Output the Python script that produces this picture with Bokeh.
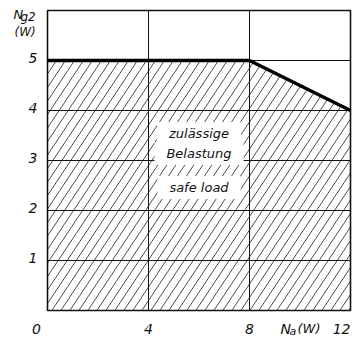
import numpy as np
from bokeh.plotting import figure
from bokeh.models import Label, Range1d
from bokeh.core.properties import value
from bokeh.embed import file_html
from bokeh.resources import INLINE

# ---- data ----
x_limit = [0, 8, 12]          # N_a (W)
y_limit = [5, 5, 4]           # N_g2 (W)
x_ticks = [4, 8, 12]
x_tick_labels = ["4", "8", "12"]
y_ticks = [1, 2, 3, 4, 5]
y_tick_labels = ["1", "2", "3", "4", "5"]
x_grid = [4, 8]
x_min, x_max = 0, 12
y_min, y_max = 0, 6
region_text = ["zulässige", "Belastung", "safe load"]
region_x = 6
region_y = [3.54, 3.14, 2.46]

FONT = "DejaVu Sans"
INK = "#111111"

W, H = 357, 337
FL, FR, FT, FB = 47, 350, 10, 310       # frame box in canvas pixels
sx = (FR - FL) / (x_max - x_min)
sy = (FB - FT) / (y_max - y_min)

p = figure(width=W, height=H,
           x_range=Range1d(x_min - FL / sx, x_max + (W - FR) / sx),
           y_range=Range1d(y_min - (H - FB) / sy, y_max + FT / sy),
           output_backend="svg", toolbar_location=None,
           min_border=0)
p.axis.visible = False
p.grid.visible = False
p.outline_line_color = None
p.background_fill_color = "white"
p.border_fill_color = "white"

# ---- hatch lines (computed from the limit curve) ----
m = 1.5 * sx / sy          # slope in data units (about 56 degrees on screen)
dc = 9.0 / sx              # horizontal spacing of the hatch
hx0, hy0, hx1, hy1 = [], [], [], []
c = -max(y_limit) / m
pairs = list(zip(zip(x_limit[:-1], y_limit[:-1]), zip(x_limit[1:], y_limit[1:])))
while c < x_max:
    xa = max(c, x_min)
    ya = m * (xa - c)
    if ya < np.interp(xa, x_limit, y_limit):
        xe = None
        for (x1, y1), (x2, y2) in pairs:
            k = (y2 - y1) / (x2 - x1)
            xi = (y1 - k * x1 + m * c) / (m - k)
            if max(x1, xa) <= xi <= x2:
                xe = xi
                break
        if xe is None:
            xe = x_max
        hx0.append(xa); hy0.append(ya)
        hx1.append(xe); hy1.append(m * (xe - c))
    c += dc
p.segment(hx0, hy0, hx1, hy1, line_color="#3a3a3a", line_width=0.9)

# ---- grid ----
p.segment(x0=x_grid, y0=[y_min] * len(x_grid), x1=x_grid, y1=[y_max] * len(x_grid),
          line_color=INK, line_width=1)
p.segment(x0=[x_min] * len(y_ticks), y0=y_ticks, x1=[x_max] * len(y_ticks), y1=y_ticks,
          line_color=INK, line_width=1)
# frame
p.quad(left=x_min, right=x_max, bottom=y_min, top=y_max,
       fill_color=None, line_color=INK, line_width=1.6)

# limit line
p.line(x_limit, y_limit, line_color="black", line_width=3.5)

def txt(xs, ys, texts, xo, yo, size, align="left", baseline="alphabetic"):
    p.text(x=xs, y=ys, text=texts, x_offset=xo, y_offset=yo,
           text_font=value(FONT), text_font_style="italic",
           text_font_size=size, text_color=INK,
           text_align=align, text_baseline=baseline)

# tick labels (last one kept inside the page)
txt(x_ticks[:-1], [y_min] * (len(x_ticks) - 1), x_tick_labels[:-1], 0, 18, "14px",
    align="center")
txt(x_ticks[-1:], [y_min], x_tick_labels[-1:], 0, 18, "14px", align="right")
txt([x_min], [y_min], ["0"], -11, 18, "14px", align="center")
txt([x_min] * len(y_ticks), y_ticks, y_tick_labels, -10, -3, "14px",
    align="right", baseline="middle")

# x axis title N_a (W)
txt([8], [y_min], ["N"], 31, 18, "14px")
txt([8], [y_min], ["a"], 40, 21, "11px")
txt([8], [y_min], ["(W)"], 48, 18, "13px")
# y axis title N_g2 (W)
txt([x_min], [y_max], ["N"], -34, 4, "13px")
txt([x_min], [y_max], ["g2"], -27, 6, "12px")
txt([x_min], [y_max], ["(W)"], -33, 21, "12px")

# region text with white background
for t, yy in zip(region_text, region_y):
    p.add_layout(Label(x=region_x, y=yy, text=t,
                       text_font=FONT, text_font_style="italic",
                       text_font_size="13px", text_color=INK,
                       text_align="center", text_baseline="middle",
                       background_fill_color="white",
                       padding=dict(left=12, right=12, top=4, bottom=4)))

open("out.html", "w").write(file_html(p, INLINE))
